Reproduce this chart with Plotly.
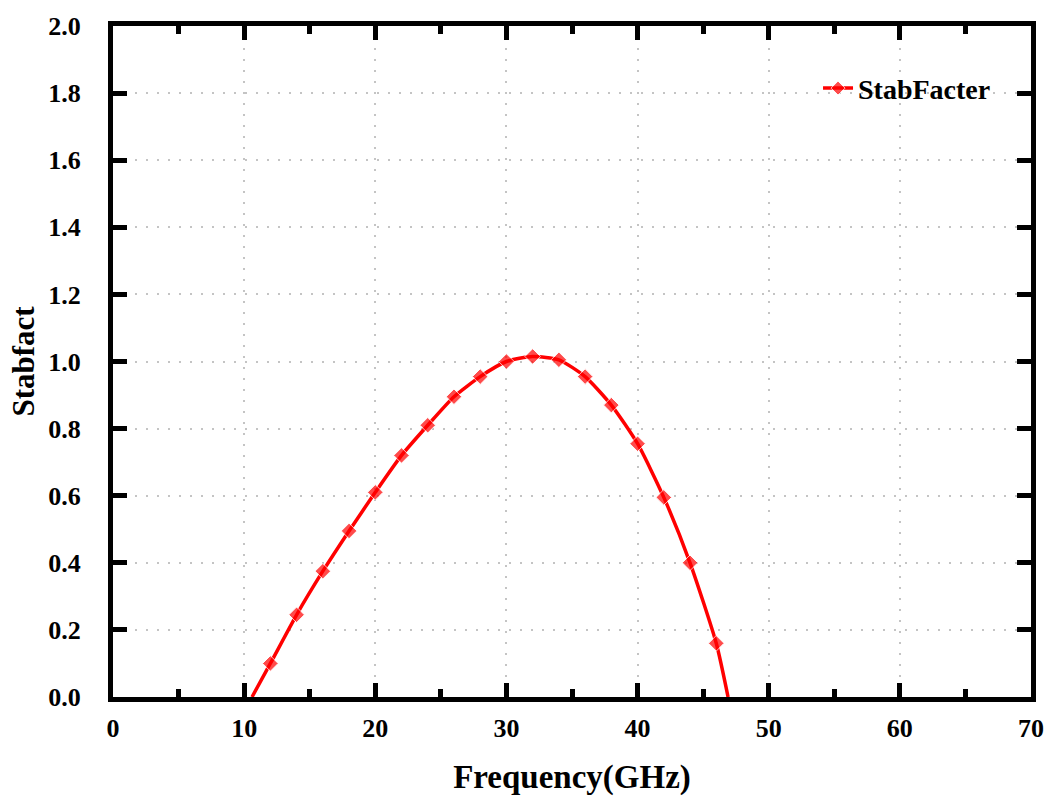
import plotly.graph_objects as go

freq = [10.6, 12, 14, 16, 18, 20, 22, 24, 26, 28, 30, 32, 34, 36, 38, 40, 42, 44, 46, 46.9]
stab = [0.0, 0.10, 0.245, 0.375, 0.495, 0.61, 0.72, 0.81, 0.895, 0.955, 1.0, 1.015, 1.005,
        0.955, 0.87, 0.755, 0.595, 0.40, 0.16, 0.0]
marker_sizes = [0] + [12] * 18 + [0]

x_ticks = [0, 10, 20, 30, 40, 50, 60, 70]
x_minor = [5, 15, 25, 35, 45, 55, 65]
y_ticks = [0, 0.2, 0.4, 0.6, 0.8, 1.0, 1.2, 1.4, 1.6, 1.8, 2.0]

font_family = "Liberation Serif"

fig = go.Figure()
fig.add_trace(go.Scatter(
    x=freq, y=stab, mode="lines+markers", name="<b>StabFacter</b>",
    line=dict(color="#ff0000", width=3.5, shape="spline", smoothing=0.6),
    marker=dict(symbol="diamond", size=marker_sizes, color="#ff0000"),
    cliponaxis=True,
))

axis_common = dict(
    showline=True, linecolor="black", linewidth=5, mirror="ticks",
    ticks="inside", tickcolor="black", tickwidth=5, ticklen=14,
    showgrid=True, gridcolor="#c4c4c4", griddash="2px,9px", gridwidth=1.5,
    zeroline=False,
    tickfont=dict(family=font_family, size=26, color="black", weight="bold"),
)

fig.update_xaxes(
    range=[0, 70], tickvals=x_ticks,
    ticktext=["<b>%d</b>" % v for v in x_ticks],
    minor=dict(ticks="inside", tickvals=x_minor, ticklen=8,
               tickwidth=5, tickcolor="black", showgrid=False),
    title=dict(text="<b>Frequency(GHz)</b>", font=dict(family=font_family, size=33, color="black"),
               standoff=24),
    ticklabelstandoff=4,
    **axis_common,
)
fig.update_yaxes(
    range=[0, 2.0], tickvals=y_ticks,
    ticktext=["<b>%.1f</b>" % v for v in y_ticks],
    title=dict(text="<b>Stabfact</b>", font=dict(family=font_family, size=31, color="black"),
               standoff=6),
    ticklabelstandoff=22,
    **axis_common,
)

fig.update_layout(
    width=1056, height=811,
    margin=dict(l=113, r=19, t=22, b=114),
    paper_bgcolor="white", plot_bgcolor="white",
    showlegend=True,
    legend=dict(x=0.768, y=0.907, xanchor="left", yanchor="middle",
                bgcolor="rgba(0,0,0,0)",
                font=dict(family=font_family, size=28, color="black")),
)

fig.write_html("out.html")
